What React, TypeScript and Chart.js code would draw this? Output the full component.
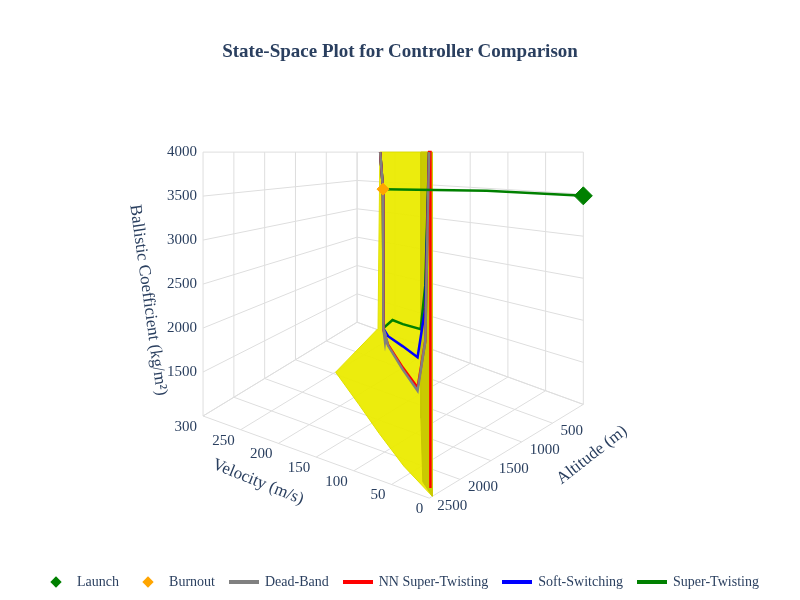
import React, { useEffect, useRef } from "react";
import { Chart, registerables } from "chart.js";

Chart.register(...registerables);

// axis ranges and ticks
const velRange = [0, 300];
const altRange = [0, 2500];
const bcRange = [1000, 4000];
const velTicks = [0, 50, 100, 150, 200, 250, 300];
const altTicks = [500, 1000, 1500, 2000, 2500];
const bcTicks = [1500, 2000, 2500, 3000, 3500, 4000];

// [velocity, altitude, ballistic coefficient]
type P3 = [number, number, number];
const launch: P3[] = [[0, 0, 3480]];
const burnout: P3[] = [[235, 375, 3450]];
const boost: P3[] = [[0, 0, 3480], [120, 100, 3480], [235, 375, 3450]];
const surface: P3[] = [
  [0, 2450, 1000], [0, 2450, 4000], [90, 2200, 4000], [90, 2230, 2300],
  [165, 2000, 1660], [130, 2050, 1420], [95, 2150, 1250], [50, 2300, 1100], [0, 2450, 1000],
];
const surfaceDark: P3[] = [
  [0, 2450, 1000], [0, 2450, 4000], [25, 2330, 4000], [25, 2330, 1600], [20, 2360, 1050], [0, 2450, 1000],
];
const deadBand: P3[] = [
  [240, 360, 4000], [235, 375, 3450], [200, 800, 2560], [175, 1100, 1840], [165, 1200, 1750], [160, 1250, 1850],
  [150, 1400, 1970], [120, 1700, 1950], [80, 1950, 1850], [40, 2200, 1790], [20, 2320, 2300], [10, 2380, 4000],
];
const nnSuperTwisting: P3[] = [
  [240, 360, 4000], [235, 375, 3450], [200, 800, 2560], [175, 1100, 1860],
  [150, 1400, 1970], [120, 1700, 1960], [80, 1950, 1870], [40, 2200, 1820], [20, 2320, 2300], [10, 2380, 4000],
  [5, 2420, 4000], [5, 2420, 1050],
];
const softSwitching: P3[] = [
  [240, 360, 4000], [235, 375, 3450], [200, 800, 2560], [175, 1100, 1880],
  [150, 1400, 1990], [120, 1700, 2050], [80, 1950, 2080], [40, 2200, 2100], [20, 2320, 2600], [10, 2380, 4000],
];
const superTwisting: P3[] = [
  [240, 360, 4000], [235, 375, 3450], [200, 800, 2600], [175, 1100, 1900],
  [150, 1400, 2000], [110, 1750, 2250], [80, 1950, 2300], [40, 2150, 2350], [20, 2320, 2800], [10, 2380, 4000],
];

function proj([v, a, b]: P3) {
  const u = (v - velRange[0]) / (velRange[1] - velRange[0]);
  const w = (altRange[1] - a) / (altRange[1] - altRange[0]);
  const h = (b - bcRange[0]) / (bcRange[1] - bcRange[0]);
  const x = 430 - 232 * u + 158 * w;
  const by = 505 - 85 * u - 97 * w;
  return { x, y: by - h * (by - 147) };
}

const FONT = "'Liberation Serif', 'DejaVu Serif', serif";
const TXT = "#2a3f5f";

function gridLines(): P3[][] {
  const [v0, v1] = velRange, [a0, a1] = altRange, [b0, b1] = bcRange;
  const out: P3[][] = [];
  for (const b of [b0, ...bcTicks]) out.push([[v1, a1, b], [v1, a0, b], [v0, a0, b]]);
  for (const a of [a0, ...altTicks]) { out.push([[v1, a, b0], [v1, a, b1]]); out.push([[v1, a, b0], [v0, a, b0]]); }
  for (const v of velTicks) { out.push([[v, a0, b0], [v, a0, b1]]); out.push([[v, a1, b0], [v, a0, b0]]); }
  return out;
}

const legendItems = [
  { label: "Launch", color: "green", kind: "diamond" },
  { label: "Burnout", color: "orange", kind: "diamond" },
  { label: "Dead-Band", color: "gray", kind: "line" },
  { label: "NN Super-Twisting", color: "red", kind: "line" },
  { label: "Soft-Switching", color: "blue", kind: "line" },
  { label: "Super-Twisting", color: "green", kind: "line" },
];

export default function App() {
  const canvasRef = useRef<HTMLCanvasElement | null>(null);
  useEffect(() => {
    document.body.style.margin = "0";
    if (!canvasRef.current) return;
    const line = (pts: P3[], color: string, width: number, order: number) => ({
      data: pts.map(proj), showLine: true, borderColor: color, borderWidth: width, pointRadius: 0, fill: false, order,
    });
    const labels = {
      id: "labels3d",
      afterDraw(chart: any) {
        const ctx = chart.ctx as CanvasRenderingContext2D;
        const X = chart.scales.x, Y = chart.scales.y;
        const put = (p: { x: number; y: number }, dx: number, dy: number, t: string, align: CanvasTextAlign) => {
          ctx.textAlign = align;
          ctx.fillText(t, X.getPixelForValue(p.x) + dx, Y.getPixelForValue(p.y) + dy);
        };
        ctx.save();
        ctx.fillStyle = TXT;
        ctx.font = `15px ${FONT}`;
        ctx.textBaseline = "middle";
        velTicks.forEach((v) => put(proj([v, altRange[1], bcRange[0]]), -6, 11, String(v), "right"));
        altTicks.forEach((a) => put(proj([velRange[0], a, bcRange[0]]), 8, 8, String(a), "left"));
        bcTicks.forEach((b) => put(proj([velRange[1], altRange[1], b]), -6, 0, String(b), "right"));
        ctx.font = `17px ${FONT}`;
        ctx.textAlign = "center";
        const rot = (x: number, y: number, ang: number, t: string) => {
          ctx.save(); ctx.translate(x, y); ctx.rotate((ang * Math.PI) / 180); ctx.fillText(t, 0, 0); ctx.restore();
        };
        rot(258, 482, 22, "Velocity (m/s)");
        rot(592, 455, -38, "Altitude (m)");
        rot(148, 300, 82, "Ballistic Coefficient (kg/m²)");
        ctx.restore();
      },
    };
    const chart = new Chart(canvasRef.current, {
      type: "scatter",
      data: {
        datasets: [
          ...gridLines().map((g) => line(g, "#dedede", 1, 10)),
          {
            data: surface.map(proj), showLine: true, fill: "shape", backgroundColor: "rgba(235,235,0,0.95)",
            borderColor: "#e0e000", borderWidth: 1, pointRadius: 0, order: 6,
          },
          {
            data: surfaceDark.map(proj), showLine: true, fill: "shape", backgroundColor: "rgba(200,200,0,0.95)",
            borderColor: "#c8c800", borderWidth: 1, pointRadius: 0, order: 5,
          },
          line(boost, "green", 2.5, 2),
          line(deadBand, "gray", 2.5, 2),
          line(nnSuperTwisting, "red", 2.5, 2),
          line(softSwitching, "blue", 2.5, 2),
          line(superTwisting, "green", 2.5, 2),
          { data: launch.map(proj), pointStyle: "rectRot", pointRadius: 9, backgroundColor: "green", borderColor: "green", order: 0 },
          { data: burnout.map(proj), pointStyle: "rectRot", pointRadius: 6, backgroundColor: "orange", borderColor: "orange", order: 0 },
        ] as any,
      },
      options: {
        animation: false,
        responsive: true,
        maintainAspectRatio: false,
        layout: { padding: 0 },
        scales: {
          x: { type: "linear", min: 0, max: 800, display: false },
          y: { type: "linear", min: 0, max: 600, reverse: true, display: false },
        },
        plugins: { legend: { display: false }, tooltip: { enabled: false } },
      },
      plugins: [labels],
    });
    return () => chart.destroy();
  }, []);

  return (
    <div style={{ position: "relative", width: 800, height: 600, background: "#fff", fontFamily: FONT, color: TXT }}>
      <canvas ref={canvasRef} style={{ position: "absolute", left: 0, top: 0, width: 800, height: 600 }} />
      <div style={{ position: "absolute", top: 40, width: 800, textAlign: "center", fontSize: 19, fontWeight: "bold" }}>
        State-Space Plot for Controller Comparison
      </div>
      <div style={{ position: "absolute", top: 574, width: 800, display: "flex", justifyContent: "center", gap: 14, fontSize: 14 }}>
        {legendItems.map((it) => (
          <span key={it.label} style={{ display: "flex", alignItems: "center", gap: 6 }}>
            {it.kind === "diamond" ? (
              <span style={{ width: 8, height: 8, background: it.color, transform: "rotate(45deg)", margin: "0 11px" }} />
            ) : (
              <span style={{ width: 30, height: 4, background: it.color }} />
            )}
            {it.label}
          </span>
        ))}
      </div>
    </div>
  );
}
